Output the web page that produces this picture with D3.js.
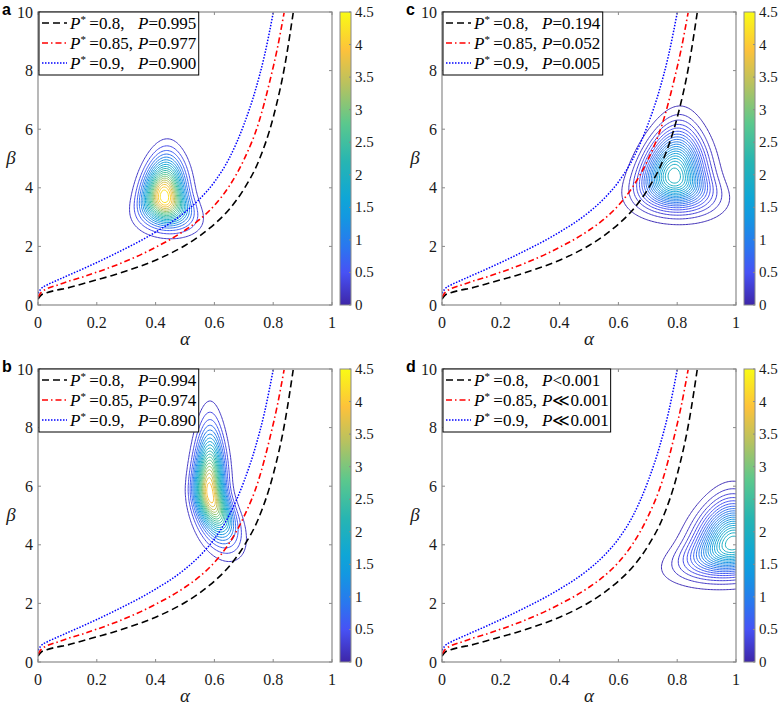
<!DOCTYPE html>
<html><head><meta charset="utf-8">
<script src="https://cdn.jsdelivr.net/npm/d3@7"></script>
<style>body{margin:0;background:#fff} svg text{font-family:'Liberation Serif','Times New Roman',serif;}</style>
</head><body>
<svg id="chart" width="778" height="705" xmlns="http://www.w3.org/2000/svg"></svg>
<script>
// ---------------- data ----------------
const xTicks = [0, 0.2, 0.4, 0.6, 0.8, 1];
const yTicks = [0, 2, 4, 6, 8, 10];
const cbTicks = [0, 0.5, 1, 1.5, 2, 2.5, 3, 3.5, 4, 4.5];
const xTickLabels = ["0", "0.2", "0.4", "0.6", "0.8", "1"];
const yTickLabels = ["0", "2", "4", "6", "8", "10"];
const cbTickLabels = ["0", "0.5", "1", "1.5", "2", "2.5", "3", "3.5", "4", "4.5"];

// P* iso-curves (same in all panels): alpha -> beta
const alphaBlack = [0, 0.01, 0.03, 0.06, 0.1, 0.15, 0.2, 0.25, 0.3, 0.35, 0.4, 0.45, 0.5, 0.55, 0.6, 0.65, 0.7, 0.75, 0.8, 0.84, 0.868];
const betaBlack  = [0.2, 0.33, 0.42, 0.5, 0.58, 0.72, 0.86, 1.0, 1.16, 1.33, 1.53, 1.76, 2.03, 2.36, 2.76, 3.26, 3.95, 4.9, 6.4, 8.2, 9.97];
const alphaRed = [0, 0.01, 0.03, 0.06, 0.1, 0.15, 0.2, 0.25, 0.3, 0.35, 0.4, 0.45, 0.5, 0.55, 0.6, 0.65, 0.7, 0.75, 0.79, 0.815, 0.837];
const betaRed  = [0.27, 0.42, 0.55, 0.66, 0.8, 0.95, 1.12, 1.3, 1.5, 1.72, 1.97, 2.24, 2.55, 2.92, 3.4, 4.05, 4.95, 6.2, 7.7, 8.8, 9.97];
const alphaBlue = [0, 0.01, 0.03, 0.06, 0.1, 0.15, 0.2, 0.25, 0.3, 0.35, 0.4, 0.45, 0.5, 0.55, 0.6, 0.65, 0.7, 0.74, 0.77, 0.8];
const betaBlue  = [0.4, 0.55, 0.68, 0.82, 1.0, 1.22, 1.45, 1.69, 1.94, 2.2, 2.49, 2.8, 3.17, 3.62, 4.2, 5.0, 6.15, 7.35, 8.5, 9.97];

const pStar = ["0.8", "0.85", "0.9"];
const pValuesA = ["0.995", "0.977", "0.900"];
const pValuesB = ["0.994", "0.974", "0.890"];
const pValuesC = ["0.194", "0.052", "0.005"];
const pValuesD = ["0.001", "0.001", "0.001"];
const opsA = ["=", "=", "="];
const opsB = ["=", "=", "="];
const opsC = ["=", "=", "="];
const opsD = ["<", "\u226A", "\u226A"];

// posterior density shapes:
// [alphaCentre, betaCentre, peak, alphaSpread, betaSpreadUp, betaSpreadDown, taperUp, taperDown, shearUp, shearDown]
const densA = [0.43, 3.7, 4.45, 0.046, 0.80, 0.58, 0.08, 0.22, 0.005, -0.015];
const densB = [0.585, 5.75, 4.1, 0.034, 1.28, 0.94, 0.08, 0.18, 0.0, -0.028];
const densC = [0.79, 4.4, 2.1, 0.068, 0.97, 0.67, 0.12, 0.2, 0.008, -0.01];
const densD = [0.99, 4.05, 2.1, 0.082, 0.86, 0.64, 0.14, 0.22, 0.0, 0.03];

// parula-like colormap stops
const cmapStops = [0, 0.111, 0.2, 0.3, 0.365, 0.49, 0.62, 0.75, 0.87, 1];
const cmapColors = ["#3e26a8", "#4752f5", "#2a77ef", "#1398e1", "#0fa6d6", "#27b5b2", "#5bc88d", "#b6c260", "#fdc23b", "#f9fb15"];

// ---------------- drawing ----------------
const svg = d3.select("#chart");
const W = 294, H = 293;
const layout = {a: [38, 12], b: [38, 369], c: [442, 12], d: [442, 369]};
const panels = [
  {key: "a", dens: densA, pv: pValuesA, ops: opsA},
  {key: "b", dens: densB, pv: pValuesB, ops: opsB},
  {key: "c", dens: densC, pv: pValuesC, ops: opsC},
  {key: "d", dens: densD, pv: pValuesD, ops: opsD}
];
const cmax = 4.5;
const color = d3.scaleLinear().domain(cmapStops.map(t => t * cmax)).range(cmapColors).clamp(true);
const serif = "'Liberation Serif', 'Times New Roman', serif";

const curves = [
  {a: alphaBlack, b: betaBlack, stroke: "#000", dash: "7,4", w: 1.6},
  {a: alphaRed, b: betaRed, stroke: "#ff0000", dash: "6,3,1.5,3", w: 1.6},
  {a: alphaBlue, b: betaBlue, stroke: "#0000ff", dash: "1.5,1.5", w: 1.5}
];

const defs = svg.append("defs");
const grad = defs.append("linearGradient").attr("id", "parula").attr("x1", 0).attr("y1", 1).attr("x2", 0).attr("y2", 0);
cmapStops.forEach((t, i) => grad.append("stop").attr("offset", t).attr("stop-color", cmapColors[i]));

function density(p, a, b) {
  const [ac, bc, peak, sa, sbUp, sbDown, tUp, tDown, shUp, shDown] = p;
  const db = b - bc;
  const s = 1 / (1 + Math.exp(-db / 0.35));           // smooth blend lower -> upper half
  const mix = (lo, hi) => lo + (hi - lo) * s;
  const v = db / mix(sbDown, sbUp);
  const a0 = ac + mix(shDown, shUp) * db;
  const w = sa * Math.max(0.15, 1 - mix(tDown, tUp) * v);
  const u = (a - a0) / w;
  return peak * Math.exp(-0.5 * (u * u + v * v));
}

panels.forEach(P => {
  const [x0, y0] = layout[P.key];
  const xs = d3.scaleLinear().domain([0, 1]).range([x0, x0 + W]);
  const ys = d3.scaleLinear().domain([0, 10]).range([y0 + H, y0]);
  const g = svg.append("g");
  const clipId = "clip-" + P.key;
  defs.append("clipPath").attr("id", clipId).append("rect")
    .attr("x", x0).attr("y", y0).attr("width", W).attr("height", H);

  // contours
  const aMin = 0, aMax = 1.25, bMin = 0, bMax = 12.5;
  const nx = 250, ny = 250;
  const da = (aMax - aMin) / (nx - 1), dbb = (bMax - bMin) / (ny - 1);
  const vals = new Float64Array(nx * ny);
  for (let j = 0; j < ny; j++) for (let i = 0; i < nx; i++)
    vals[j * nx + i] = density(P.dens, aMin + i * da, bMin + j * dbb);
  const peak = P.dens[2];
  const levels = d3.range(1, 21).map(i => peak * i / 21);
  const conts = d3.contours().size([nx, ny]).thresholds(levels)(vals);
  const proj = d3.geoTransform({
    point(x, y) { this.stream.point(xs(aMin + (x - 0.5) * da), ys(bMin + (y - 0.5) * dbb)); }
  });
  const path = d3.geoPath(proj);
  g.append("g").attr("clip-path", `url(#${clipId})`)
    .selectAll("path").data(conts).join("path")
    .attr("d", path).attr("fill", "none")
    .attr("stroke", d => color(d.value)).attr("stroke-width", 1);

  // P* curves
  const line = d3.line().x(d => xs(d[0])).y(d => ys(d[1])).curve(d3.curveMonotoneX);
  const cg = g.append("g").attr("clip-path", `url(#${clipId})`);
  curves.forEach(c => {
    cg.append("path").attr("d", line(c.a.map((a, i) => [a, c.b[i]])))
      .attr("fill", "none").attr("stroke", c.stroke).attr("stroke-width", c.w)
      .attr("stroke-dasharray", c.dash);
  });

  // axes box and ticks
  const axColor = "#8a8a8a";
  const txt = "#1a1a1a";
  g.append("rect").attr("x", x0).attr("y", y0).attr("width", W).attr("height", H)
    .attr("fill", "none").attr("stroke", axColor).attr("stroke-width", 1.2);
  const tl = 3;
  xTicks.forEach((t, i) => {
    const x = xs(t);
    g.append("line").attr("x1", x).attr("x2", x).attr("y1", y0 + H).attr("y2", y0 + H - tl).attr("stroke", axColor);
    g.append("line").attr("x1", x).attr("x2", x).attr("y1", y0).attr("y2", y0 + tl).attr("stroke", axColor);
    g.append("text").attr("x", x).attr("y", y0 + H + 23).attr("text-anchor", "middle")
      .style("font-family", serif).attr("font-size", 16).attr("fill", txt).text(xTickLabels[i]);
  });
  yTicks.forEach((t, i) => {
    const y = ys(t);
    g.append("line").attr("x1", x0).attr("x2", x0 + tl).attr("y1", y).attr("y2", y).attr("stroke", axColor);
    g.append("line").attr("x1", x0 + W).attr("x2", x0 + W - tl).attr("y1", y).attr("y2", y).attr("stroke", axColor);
    g.append("text").attr("x", x0 - 5).attr("y", y + 5.5).attr("text-anchor", "end")
      .style("font-family", serif).attr("font-size", 16).attr("fill", txt).text(yTickLabels[i]);
  });
  g.append("text").attr("x", x0 + W / 2).attr("y", y0 + H + 40).attr("text-anchor", "middle")
    .style("font-family", serif).attr("font-size", 19).attr("font-style", "italic").attr("fill", txt).text("\u03B1");
  g.append("text").attr("x", x0 - 27).attr("y", y0 + H / 2 + 5).attr("text-anchor", "middle")
    .style("font-family", serif).attr("font-size", 19).attr("font-style", "italic").attr("fill", txt).text("\u03B2");

  // panel letter
  g.append("text").attr("x", x0 - 36).attr("y", y0 + 3).style("font-family", "'Liberation Sans', Arial, sans-serif")
    .attr("font-weight", "bold").attr("font-size", 16).attr("fill", "#000").text(P.key);

  // colorbar
  const cbx = x0 + W + 8, cbw = 11;
  const cs = d3.scaleLinear().domain([0, cmax]).range([y0 + H, y0]);
  g.append("rect").attr("x", cbx).attr("y", y0).attr("width", cbw).attr("height", H)
    .attr("fill", "url(#parula)").attr("stroke", axColor).attr("stroke-width", 1);
  cbTicks.forEach((t, i) => {
    g.append("line").attr("x1", cbx + cbw).attr("x2", cbx + cbw - 2).attr("y1", cs(t)).attr("y2", cs(t)).attr("stroke", axColor);
    g.append("text").attr("x", cbx + cbw + 4).attr("y", cs(t) + 5)
      .style("font-family", serif).attr("font-size", 15).attr("fill", txt).text(cbTickLabels[i]);
  });

  // legend
  const lg = g.append("g");
  const lbox = lg.append("rect").attr("x", x0 + 1).attr("y", y0).attr("height", 63)
    .attr("fill", "#fff").attr("stroke", "#000").attr("stroke-width", 1);
  let maxRight = 0;
  curves.forEach((c, i) => {
    const yb = y0 + 11 + i * 20;
    lg.append("line").attr("x1", x0 + 4).attr("x2", x0 + 29).attr("y1", yb).attr("y2", yb)
      .attr("stroke", c.stroke).attr("stroke-width", c.w).attr("stroke-dasharray", c.dash);
    const t1 = lg.append("text").attr("x", x0 + 32).attr("y", yb + 6)
      .style("font-family", serif).attr("font-size", 17).attr("fill", "#000");
    t1.append("tspan").attr("font-style", "italic").text("P");
    t1.append("tspan").attr("font-size", 11).attr("dy", -6).text("*");
    t1.append("tspan").attr("dy", 6).text("\u2009=" + pStar[i] + ",");
    const t2 = lg.append("text").attr("x", x0 + 100).attr("y", yb + 6)
      .style("font-family", serif).attr("font-size", 17).attr("fill", "#000");
    t2.append("tspan").attr("font-style", "italic").text("P");
    t2.append("tspan").text(P.ops[i] + P.pv[i]);
    const bb = t2.node().getBBox();
    maxRight = Math.max(maxRight, bb.x + bb.width);
  });
  lbox.attr("width", maxRight + 2 - (x0 + 1));
});
</script>
</body></html>
